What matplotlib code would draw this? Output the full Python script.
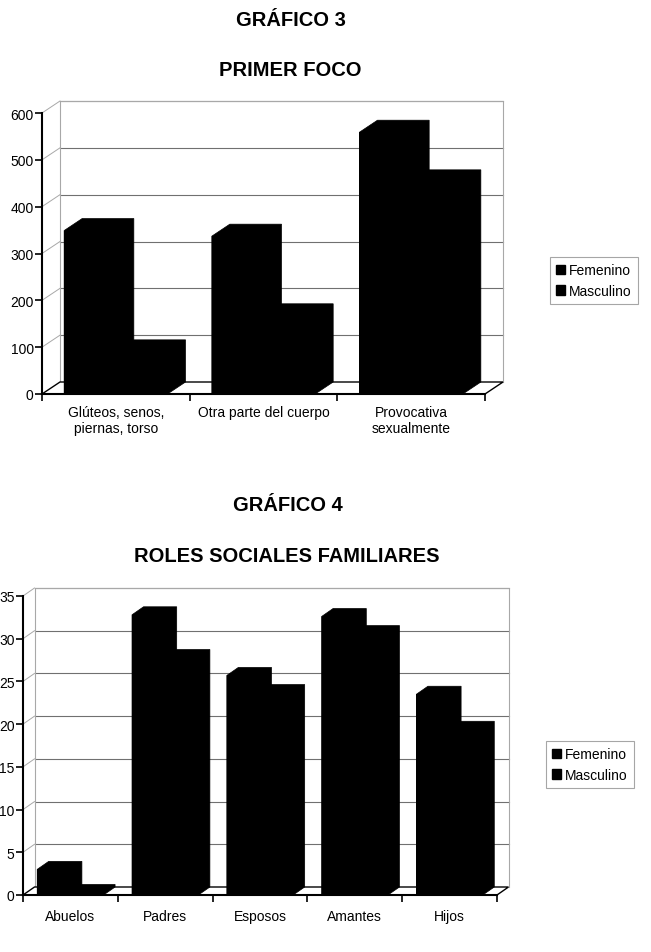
import matplotlib
matplotlib.use('Agg')
import matplotlib.pyplot as plt
from matplotlib.patches import Polygon, Patch
from matplotlib.ticker import FixedLocator

plt.rcParams['font.family'] = ['Liberation Sans', 'DejaVu Sans']

# --- data ---
foco_cats = ['Glúteos, senos,\npiernas, torso', 'Otra parte del cuerpo', 'Provocativa\nsexualmente']
foco_fem = [349, 337, 559]
foco_masc = [90, 167, 453]

roles_cats = ['Abuelos', 'Padres', 'Esposos', 'Amantes', 'Hijos']
roles_fem = [3.0, 32.8, 25.7, 32.6, 23.5]
roles_masc = [0.3, 27.8, 23.7, 30.6, 19.4]

series_names = ['Femenino', 'Masculino']

W, H = 651, 953
fig = plt.figure(figsize=(W / 100, H / 100), dpi=100)
fig.patch.set_facecolor('white')

GRID = '#707070'
WALL = '#a8a8a8'


def chart(box, cats, fem, masc, ymax, step, depth, label_pad):
    x0, x1, yb, yt = box
    ax = fig.add_axes([x0 / W, 1 - yb / H, (x1 - x0) / W, (yb - yt) / H])
    n = len(cats)
    ax.set_xlim(0, n)
    ax.set_ylim(0, ymax)
    ax.patch.set_visible(False)
    # depth offset in data units
    ddx = depth[0] / ((x1 - x0) / n)
    ddy = depth[1] / ((yb - yt) / ymax)

    # back wall + side wall grid
    ticks = list(range(0, ymax + 1, step))
    for v in ticks[1:]:
        ax.plot([ddx, n + ddx], [v + ddy, v + ddy], color=GRID, lw=0.8, clip_on=False, zorder=1)
        ax.plot([0, ddx], [v, v + ddy], color=WALL, lw=0.7, clip_on=False, zorder=1)
    ax.plot([ddx, ddx, n + ddx, n + ddx], [ddy, ymax + ddy, ymax + ddy, ddy],
            color=WALL, lw=0.8, clip_on=False, zorder=1)
    # floor
    floor = Polygon([(0, 0), (n, 0), (n + ddx, ddy), (ddx, ddy)], closed=True,
                    facecolor='white', edgecolor='black', lw=1.0, clip_on=False, zorder=1.5)
    ax.add_patch(floor)

    # bars: front face via bar, then the whole block outline (front+top+side) on top
    w = 0.35
    for s, vals in enumerate([fem, masc]):
        lefts = [i + 0.15 + s * w for i in range(n)]
        ax.bar(lefts, vals, width=w, align='edge', color='black', lw=0, zorder=3, clip_on=False)
        for l, v in zip(lefts, vals):
            block = Polygon([(l, 0), (l, v), (l + ddx, v + ddy), (l + w + ddx, v + ddy),
                             (l + w + ddx, ddy), (l + w, 0)],
                            closed=True, facecolor='black', edgecolor='black', lw=0.5,
                            clip_on=False, zorder=3.1)
            ax.add_patch(block)

    for sp in ['top', 'right']:
        ax.spines[sp].set_visible(False)
    for sp in ['left', 'bottom']:
        ax.spines[sp].set_linewidth(1.5)
        ax.spines[sp].set_zorder(4)

    ax.set_yticks(ticks)
    ax.set_yticklabels([str(t) for t in ticks])
    ax.tick_params(axis='y', direction='out', length=5, width=1.2, pad=1, labelsize=10)

    ax.xaxis.set_major_locator(FixedLocator(list(range(n + 1))))
    ax.xaxis.set_minor_locator(FixedLocator([i + 0.5 for i in range(n)]))
    ax.set_xticklabels([], minor=False)
    ax.set_xticklabels(cats, minor=True, linespacing=1.15, va='top')
    ax.tick_params(axis='x', which='major', direction='out', length=5, width=1.2)
    ax.tick_params(axis='x', which='minor', length=0, pad=label_pad, labelsize=10)
    return ax


ax1 = chart((42, 485, 395, 114), foco_cats, foco_fem, foco_masc, 600, 100, (18, 12), 8)
ax2 = chart((23, 497, 896, 597), roles_cats, roles_fem, roles_masc, 35, 5, (11.5, 8), 10)

handles = [Patch(facecolor='black', edgecolor='black'), Patch(facecolor='black', edgecolor='black')]
for cx, cy in [(594, 281.5), (590, 765.5)]:
    leg = fig.legend(handles, series_names, loc='center', bbox_to_anchor=(cx / W, 1 - cy / H),
                     fontsize=10, frameon=True, fancybox=False, edgecolor='#909090',
                     handlelength=0.65, handleheight=0.65, handletextpad=0.25,
                     borderpad=0.45, labelspacing=0.5, borderaxespad=0)
    leg.get_frame().set_linewidth(0.8)

title_kw = dict(ha='center', va='baseline', fontsize=14.5, fontweight='bold')
fig.text(291 / W, 1 - 26 / H, 'GRÁFICO 3', **title_kw)
fig.text(290 / W, 1 - 76.5 / H, 'PRIMER FOCO', **title_kw)
fig.text(288 / W, 1 - 511.5 / H, 'GRÁFICO 4', **title_kw)
fig.text(287 / W, 1 - 561.5 / H, 'ROLES SOCIALES FAMILIARES', **title_kw)

fig.savefig('out.png', dpi=100)
